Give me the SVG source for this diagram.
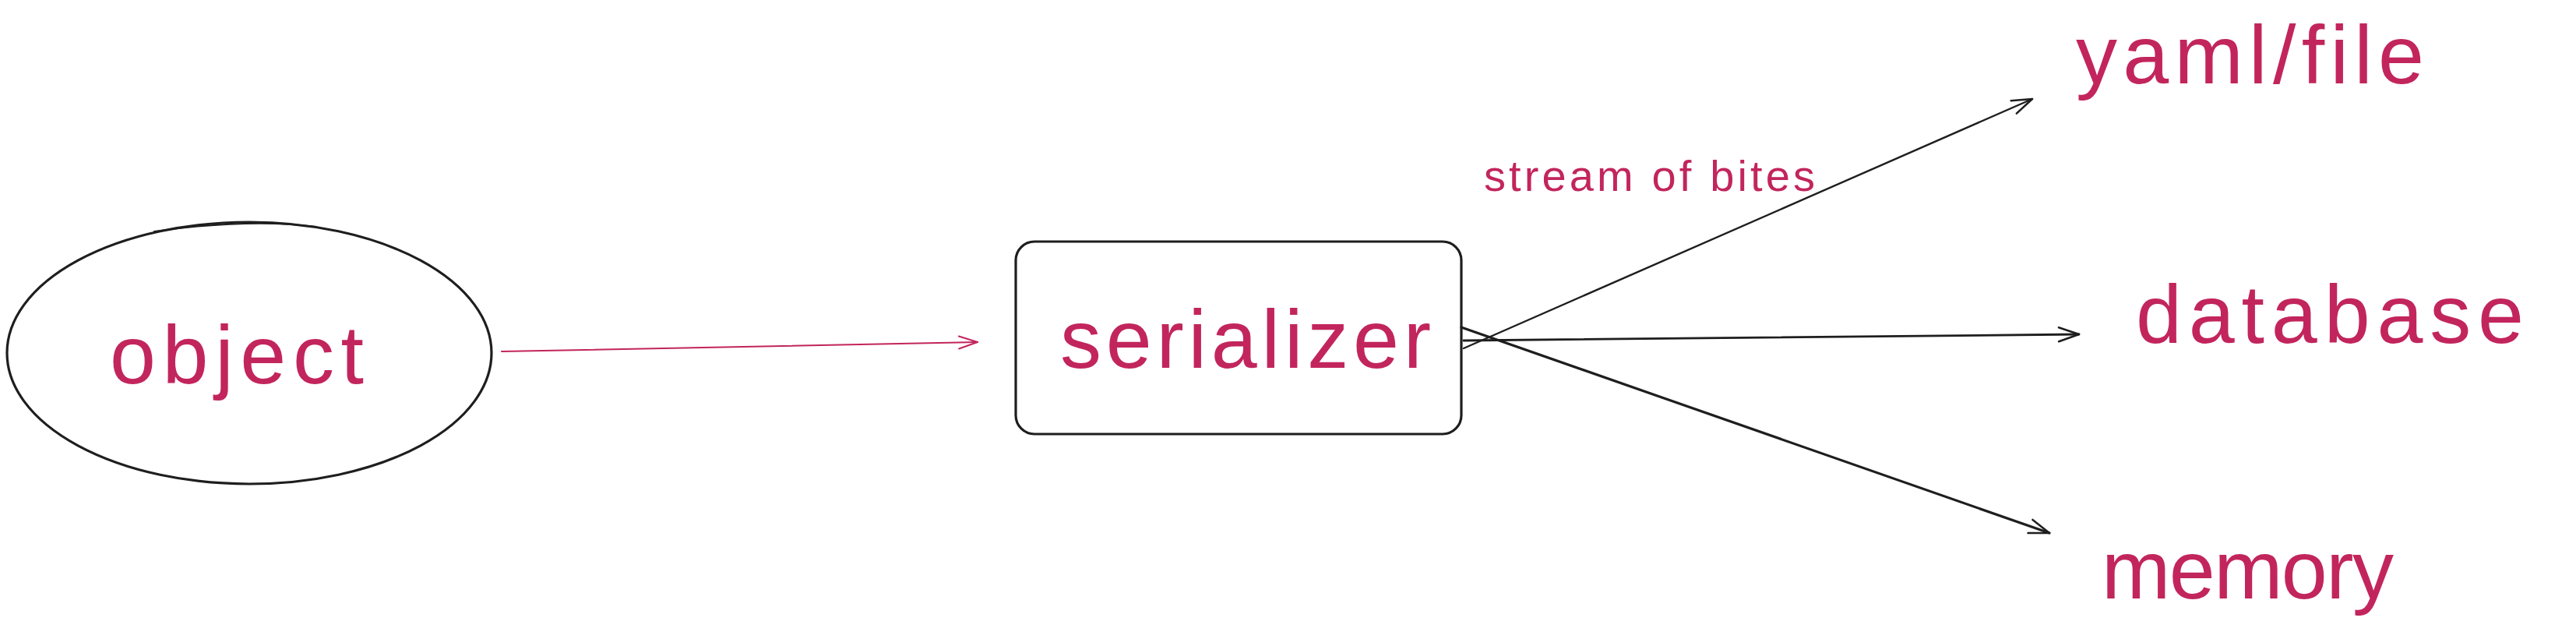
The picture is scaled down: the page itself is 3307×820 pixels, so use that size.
<svg xmlns="http://www.w3.org/2000/svg" width="3307" height="820" viewBox="0 0 3307 820">
<style>
.shape{fill:none;stroke:#1e1e1e;stroke-linecap:round;stroke-linejoin:round}
.lbl{fill:#c2255c;font-family:"Liberation Sans","Noto Sans",sans-serif}
.big{font-size:106px}
.small{font-size:56px}
.conn{fill:none;stroke-linecap:round}
</style>
<defs>
<marker id="arrK" viewBox="-30 -15 34 30" refX="0" refY="0" markerWidth="34" markerHeight="30" markerUnits="userSpaceOnUse" orient="auto" overflow="visible">
<path d="M-26,-9 L0,0 L-26,9" fill="none" stroke="#1e1e1e" stroke-width="2.5" stroke-linecap="round" stroke-linejoin="round"/>
</marker>
<marker id="arrP" viewBox="-30 -15 34 30" refX="0" refY="0" markerWidth="34" markerHeight="30" markerUnits="userSpaceOnUse" orient="auto" overflow="visible">
<path d="M-24,-8 L0,0 L-24,8" fill="none" stroke="#c2255c" stroke-width="2" stroke-linecap="round" stroke-linejoin="round"/>
</marker>
</defs>
<rect width="3307" height="820" fill="#ffffff"/>
<g id="node-object">
<ellipse class="shape" cx="320" cy="453" rx="311" ry="168" stroke-width="3.2"/>
<path class="shape" d="M198,297 Q320,280 406,291" stroke-width="2"/>
<text class="lbl big" x="141" y="492" textLength="326" lengthAdjust="spacing">object</text>
</g>
<g id="node-serializer">
<rect class="shape" x="1304" y="310" width="572" height="247" rx="24" ry="24" stroke-width="3.2"/>
<text class="lbl big" x="1361" y="472" textLength="476" lengthAdjust="spacing">serializer</text>
</g>
<g id="node-yaml">
<text class="lbl big" x="2665" y="107" textLength="447" lengthAdjust="spacing">yaml/file</text>
</g>
<g id="node-database">
<text class="lbl big" x="2742" y="440" textLength="498" lengthAdjust="spacing">database</text>
</g>
<g id="node-memory">
<text class="lbl big" x="2698" y="768" textLength="375" lengthAdjust="spacing">memory</text>
</g>
<g id="connectors">
<line class="conn" x1="644" y1="451" x2="1255" y2="439" stroke="#c2255c" stroke-width="2" marker-end="url(#arrP)"/>
<line class="conn" x1="1879" y1="447" x2="2609" y2="127" stroke="#1e1e1e" stroke-width="2.4" marker-end="url(#arrK)"/>
<line class="conn" x1="1879" y1="437" x2="2669" y2="429" stroke="#1e1e1e" stroke-width="2.8" marker-end="url(#arrK)"/>
<line class="conn" x1="1876" y1="420" x2="2631" y2="684" stroke="#1e1e1e" stroke-width="3.2" marker-end="url(#arrK)"/>
<text class="lbl small" x="1905" y="245" textLength="425" lengthAdjust="spacing">stream of bites</text>
</g>
</svg>
